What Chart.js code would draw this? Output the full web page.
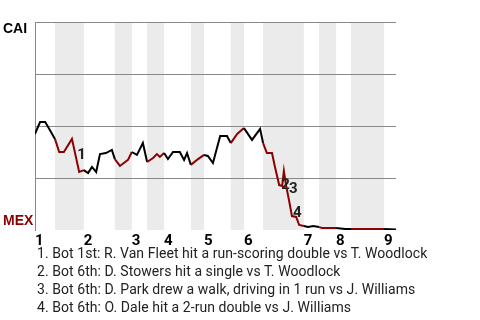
<!DOCTYPE html>
<html>
<head>
<meta charset="utf-8">
<script src="https://cdn.jsdelivr.net/npm/chart.js@4/dist/chart.umd.min.js"></script>
<style>
  body { margin: 0; width: 480px; height: 320px; background: #fff; position: relative; overflow: hidden; font-family: Roboto, sans-serif; }
  #wrap { position: absolute; left: 0; top: 0; width: 480px; height: 250px; }
  .team { position: absolute; left: 3px; font: bold 14px "Liberation Sans", Arial, sans-serif; }
  #cai { top: 20px; color: #000; }
  #mex { top: 212px; color: #8b0000; }
  #notes { position: absolute; left: 37px; top: 244px; font-size: 14px; letter-spacing: 0.06px; line-height: 18px; color: #222; white-space: nowrap; }
</style>
</head>
<body>
<div id="wrap"><canvas id="wpChart" width="480" height="250"></canvas></div>
<div class="team" id="cai">CAI</div>
<div class="team" id="mex">MEX</div>
<div id="notes"></div>
<script>
// innings along the bottom, and where each starts on the event axis
const innings = ["1", "2", "3", "4", "5", "6", "7", "8", "9"];
const inningStart = [0, 11.5, 22.8, 30.4, 39.8, 49.2, 63.3, 70.9, 82.2];
// start of each bottom half (ends at next inning start)
const bottomStart = [4.7, 18.8, 26.4, 36.7, 46.1, 53.7, 66.9, 74.4];

// event number and CAI win probability (%)
const eventX = [
  0, 1.2, 2.4, 3.5, 4.7, 5.7, 6.8, 8.7, 10.4, 11.5,
  12.5, 13.4, 14.4, 15.3, 16.7, 18.1, 18.8, 20.0, 21.9, 22.8,
  24.0, 25.4, 26.4, 27.8, 28.7, 29.4, 30.4, 31.3, 32.5, 34.1,
  35.1, 35.8, 36.7, 38.4, 39.8, 40.7, 41.9, 43.6, 45.2, 46.1,
  47.6, 49.2, 51.1, 53.0, 53.7, 54.6, 55.8, 56.5, 57.5, 58.2,
  58.6, 59.1, 59.8, 60.5, 61.5, 62.2, 63.3, 64.3, 65.5, 66.9,
  67.6, 70.9, 73.0, 74.4, 82.2, 85
];
const caiWinPct = [
  46.2, 51.9, 51.9, 48.1, 43.8, 37.5, 37.5, 43.8, 27.9, 28.8,
  27.4, 30.3, 27.9, 36.5, 37.0, 38.5, 34.1, 30.8, 33.7, 37.5,
  36.1, 41.8, 32.7, 34.6, 36.5, 35.1, 37.0, 34.1, 37.5, 37.5,
  33.7, 37.0, 31.3, 34.1, 36.1, 35.6, 32.2, 45.2, 45.2, 41.8,
  46.2, 49.0, 43.3, 48.6, 41.8, 37.0, 37.0, 30.3, 21.6, 21.2,
  28.4, 21.6, 14.4, 6.7, 6.3, 2.4, 1.9, 1.4, 1.9, 1.4,
  1.0, 1.0, 0.5, 0.5, 0.5, 0.3
];

// key plays
const noteAt = [8, 49, 52, 53];
const noteText = [
  "1. Bot 1st: R. Van Fleet hit a run-scoring double vs T. Woodlock",
  "2. Bot 6th: D. Stowers hit a single vs T. Woodlock",
  "3. Bot 6th: D. Park drew a walk, driving in 1 run vs J. Williams",
  "4. Bot 6th: O. Dale hit a 2-run double vs J. Williams"
];
const noteNudge = [[-2, -13], [-1, 3], [0, -7], [1, 1]];

const RED = "#8b0000";

document.getElementById("notes").innerHTML = noteText.map(t => "<div>" + t + "</div>").join("");

function isBottom(x) {
  for (let i = 0; i < bottomStart.length; i++) {
    if (x >= bottomStart[i] && x <= inningStart[i + 1]) return true;
  }
  return false;
}

const bands = {
  id: "bands",
  beforeDraw(chart) {
    const { ctx, chartArea: a, scales: { x } } = chart;
    ctx.save();
    ctx.fillStyle = "#ebebeb";
    bottomStart.forEach((s, i) => {
      const x0 = x.getPixelForValue(s);
      const x1 = x.getPixelForValue(inningStart[i + 1]);
      ctx.fillRect(x0, a.top, x1 - x0, a.bottom - a.top);
    });
    ctx.restore();
  }
};

const playLabels = {
  id: "playLabels",
  afterDatasetsDraw(chart) {
    const { ctx, scales: { x, y } } = chart;
    ctx.save();
    ctx.font = "bold 15px Roboto";
    ctx.fillStyle = "#222";
    ctx.textAlign = "left";
    ctx.textBaseline = "alphabetic";
    noteAt.forEach((idx, i) => {
      const px = x.getPixelForValue(eventX[idx]) + noteNudge[i][0];
      const py = y.getPixelForValue(caiWinPct[idx]) + noteNudge[i][1];
      ctx.fillText(String(i + 1), px, py);
    });
    ctx.restore();
  }
};

new Chart(document.getElementById("wpChart"), {
  type: "line",
  data: {
    datasets: [{
      data: eventX.map((v, i) => ({ x: v, y: caiWinPct[i] })),
      borderColor: "#000",
      borderWidth: 2,
      pointRadius: 0,
      tension: 0,
      segment: {
        borderColor: c => isBottom((c.p0.parsed.x + c.p1.parsed.x) / 2) ? RED : "#000"
      }
    }]
  },
  options: {
    responsive: false,
    animation: false,
    layout: { padding: { left: 35, right: 84, top: 22, bottom: 0 } },
    plugins: { legend: { display: false }, tooltip: { enabled: false } },
    scales: {
      x: {
        type: "linear",
        min: 0,
        max: 85,
        afterBuildTicks: s => { s.ticks = inningStart.map(v => ({ value: v })); },
        afterFit: s => { s.height = 20; },
        ticks: {
          callback: (v, i) => innings[i],
          align: "start",
          autoSkip: false,
          maxRotation: 0,
          padding: -6,
          color: "#000",
          font: { family: "Roboto", size: 15, weight: "bold" }
        },
        grid: { display: false },
        border: { display: false }
      },
      y: {
        min: 0,
        max: 100,
        afterBuildTicks: s => { s.ticks = [0, 25, 50, 75, 100].map(v => ({ value: v })); },
        afterFit: s => { s.width = 0; },
        ticks: { display: false },
        grid: {
          drawTicks: false,
          color: c => c.tick && c.tick.value === 0 ? "rgba(0,0,0,0)" : "#888"
        },
        border: { color: "#888" }
      }
    }
  },
  plugins: [bands, playLabels]
});
</script>
</body>
</html>
